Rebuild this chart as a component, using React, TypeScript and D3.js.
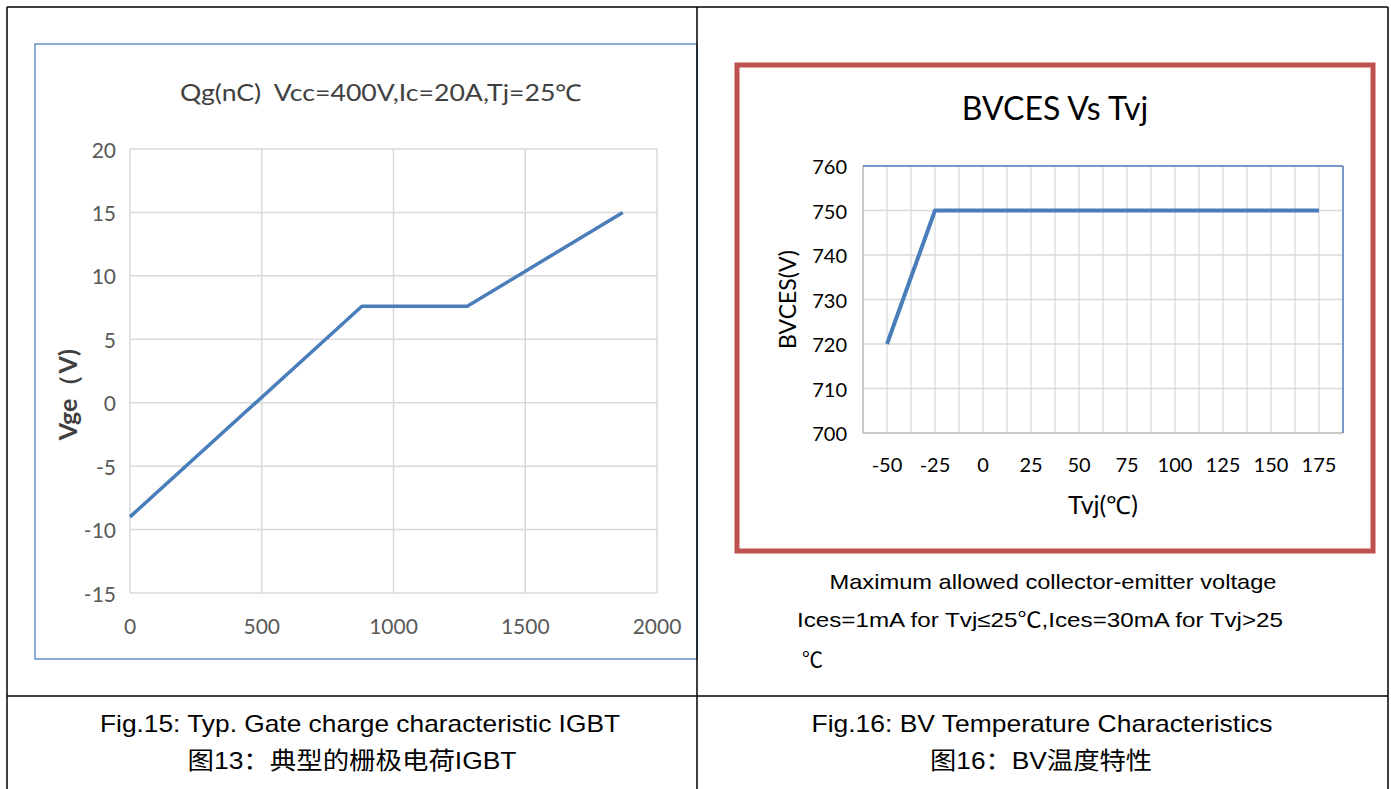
import * as d3 from 'd3';

// Fig.15 gate charge curve
const qgCharge = [0, 880, 1280, 1870];
const qgVge = [-9, 7.6, 7.6, 15];
const qgXTicks = [0, 500, 1000, 1500, 2000];
const qgYTicks = [-15, -10, -5, 0, 5, 10, 15, 20];

// Fig.16 BV vs Tvj
const tvjTemps = [-50, -25, 0, 25, 50, 75, 100, 125, 150, 175];
const bvces = [720, 750, 750, 750, 750, 750, 750, 750, 750, 750];
const bvYTicks = [700, 710, 720, 730, 740, 750, 760];

const W = 1391;
const H = 789;
const calibri = 'Lato, "Open Sans", sans-serif';
const cjk = '"Liberation Sans", "Noto Sans CJK SC", sans-serif';
const lineBlue = '#4a7ebb';
const grid = '#d9d9d9';

function GateCharge() {
  const x = d3.scaleLinear().domain([0, 2000]).range([130, 657]);
  const y = d3.scaleLinear().domain([-15, 20]).range([593, 149]);
  const line = d3
    .line<number>()
    .x((_, i) => x(qgCharge[i]))
    .y((d) => y(d));

  return (
    <g>
      <rect x={35} y={44} width={662} height={615} fill="#fff" stroke="#4f81bd" strokeWidth={1.3} />
      <text
        x={381}
        y={92}
        textAnchor="middle"
        dominantBaseline="central"
        fontFamily={calibri}
        fontSize={23}
        fill="#404040"
        style={{ whiteSpace: 'pre' }}
        textLength={402}
        lengthAdjust="spacingAndGlyphs"
      >
        Qg(nC)  Vcc=400V,Ic=20A,Tj=25℃
      </text>
      {qgYTicks.map((t) => (
        <line key={'gy' + t} x1={x(0)} x2={x(2000)} y1={y(t)} y2={y(t)} stroke={grid} strokeWidth={1.5} />
      ))}
      {qgXTicks.map((t) => (
        <line key={'gx' + t} x1={x(t)} x2={x(t)} y1={y(-15)} y2={y(20)} stroke={grid} strokeWidth={1.5} />
      ))}
      {qgYTicks.map((t) => (
        <text key={'ly' + t} x={116} y={y(t)} textAnchor="end" dominantBaseline="central" fontFamily={calibri} fontSize={21} fill="#595959">
          {t}
        </text>
      ))}
      {qgXTicks.map((t) => (
        <text key={'lx' + t} x={x(t)} y={625} textAnchor="middle" dominantBaseline="central" fontFamily={calibri} fontSize={21} fill="#595959">
          {t}
        </text>
      ))}
      <text
        transform={`translate(67,${y(0) - 8}) rotate(-90)`}
        textAnchor="middle"
        dominantBaseline="central"
        fontFamily={calibri}
        fontWeight="bold"
        fontSize={25}
        fill="#404040"
      >
        Vge（V)
      </text>
      <path d={line(qgVge) || ''} fill="none" stroke={lineBlue} strokeWidth={3.5} strokeLinejoin="round" />
    </g>
  );
}

function BvTemp() {
  const x = d3.scaleLinear().domain([-62.5, 187.5]).range([863, 1343]);
  const y = d3.scaleLinear().domain([700, 760]).range([433, 166]);
  const minor = d3.range(-62.5, 187.6, 12.5);
  const line = d3
    .line<number>()
    .x((_, i) => x(tvjTemps[i]))
    .y((d) => y(d));

  return (
    <g>
      <rect x={737} y={65} width={636} height={486} fill="#fff" stroke="#c0504d" strokeWidth={5} />
      <text x={1055} y={107} textAnchor="middle" dominantBaseline="central" fontFamily={calibri} fontSize={32} fill="#000">
        BVCES Vs Tvj
      </text>
      {bvYTicks.map((t) => (
        <line key={'gy' + t} x1={x(-62.5)} x2={x(187.5)} y1={y(t)} y2={y(t)} stroke={grid} strokeWidth={1.5} />
      ))}
      {minor.map((t) => (
        <line key={'gx' + t} x1={x(t)} x2={x(t)} y1={y(700)} y2={y(760)} stroke={grid} strokeWidth={1.2} />
      ))}
      <line x1={x(-62.5)} x2={x(187.5)} y1={y(700)} y2={y(700)} stroke="#bfbfbf" strokeWidth={1.5} />
      <line x1={x(-62.5)} x2={x(-62.5)} y1={y(700)} y2={y(760)} stroke="#bfbfbf" strokeWidth={1.5} />
      <line x1={x(-62.5)} x2={x(187.5)} y1={y(760)} y2={y(760)} stroke="#4f81bd" strokeWidth={1.5} />
      <line x1={x(187.5)} x2={x(187.5)} y1={y(700)} y2={y(760)} stroke="#4f81bd" strokeWidth={1.5} />
      {bvYTicks.map((t) => (
        <text key={'ly' + t} x={847} y={y(t)} textAnchor="end" dominantBaseline="central" fontFamily={calibri} fontSize={20} fill="#000">
          {t}
        </text>
      ))}
      {tvjTemps.map((t) => (
        <text key={'lx' + t} x={x(t)} y={464} textAnchor="middle" dominantBaseline="central" fontFamily={calibri} fontSize={20} fill="#000">
          {t}
        </text>
      ))}
      <text
        transform={`translate(787,${y(730)}) rotate(-90)`}
        textAnchor="middle"
        dominantBaseline="central"
        fontFamily={calibri}
        fontSize={23}
        fill="#000"
      >
        BVCES(V)
      </text>
      <text x={1103} y={504} textAnchor="middle" dominantBaseline="central" fontFamily={calibri} fontSize={25} fill="#000">
        Tvj(℃)
      </text>
      <path d={line(bvces) || ''} fill="none" stroke={lineBlue} strokeWidth={4} strokeLinejoin="round" />
    </g>
  );
}

export default function App() {
  return (
    <svg width={W} height={H} style={{ position: 'absolute', left: 0, top: 0, background: '#fff' }}>
      <rect width={W} height={H} fill="#fff" />
      <GateCharge />
      <BvTemp />
      <g fontFamily={cjk} fill="#000">
        <text x={1053} y={581} textAnchor="middle" dominantBaseline="central" fontSize={21} textLength={447} lengthAdjust="spacingAndGlyphs">
          Maximum allowed collector-emitter voltage
        </text>
        <text x={797} y={619} dominantBaseline="central" fontSize={21} textLength={486} lengthAdjust="spacingAndGlyphs">
          Ices=1mA for Tvj≤25℃,Ices=30mA for Tvj&gt;25
        </text>
        <text x={802} y={659} dominantBaseline="central" fontSize={21}>
          ℃
        </text>
        <text x={360} y={723} textAnchor="middle" dominantBaseline="central" fontSize={24} textLength={520} lengthAdjust="spacingAndGlyphs">
          Fig.15: Typ. Gate charge characteristic IGBT
        </text>
        <text x={352} y={760} textAnchor="middle" dominantBaseline="central" fontSize={24} textLength={329} lengthAdjust="spacingAndGlyphs">
          图13：典型的栅极电荷IGBT
        </text>
        <text x={1042} y={723} textAnchor="middle" dominantBaseline="central" fontSize={24} textLength={461} lengthAdjust="spacingAndGlyphs">
          Fig.16: BV Temperature Characteristics
        </text>
        <text x={1041} y={760} textAnchor="middle" dominantBaseline="central" fontSize={24} textLength={222} lengthAdjust="spacingAndGlyphs">
          图16：BV温度特性
        </text>
      </g>
      {/* table rules */}
      <g stroke="#000" strokeWidth={1.5}>
        <line x1={7} x2={1388} y1={7} y2={7} />
        <line x1={7} x2={1388} y1={696} y2={696} />
        <line x1={7} x2={7} y1={7} y2={H} />
        <line x1={697} x2={697} y1={7} y2={H} />
        <line x1={1388} x2={1388} y1={7} y2={H} />
      </g>
    </svg>
  );
}
